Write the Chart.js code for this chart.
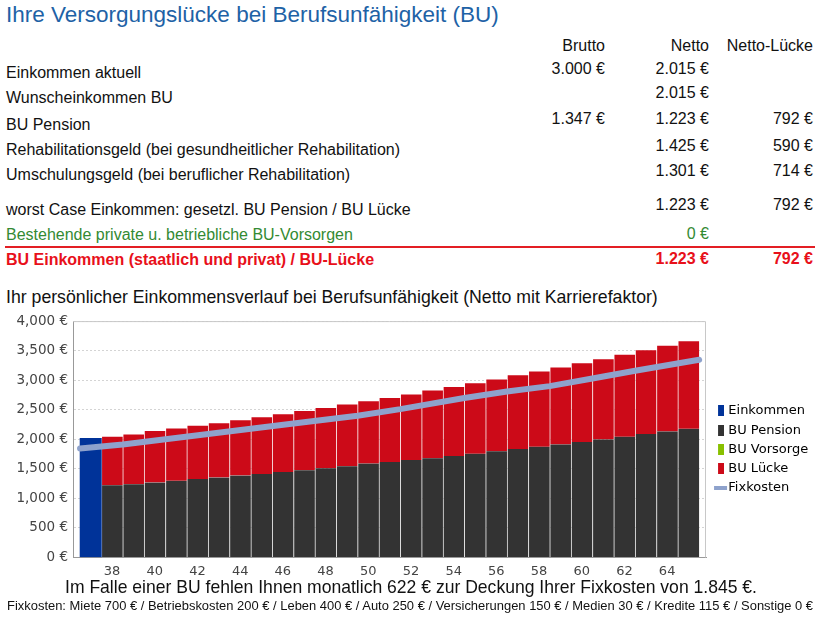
<!DOCTYPE html>
<html><head><meta charset="utf-8">
<script src="https://cdn.jsdelivr.net/npm/chart.js@4/dist/chart.umd.min.js"></script>
<style>
html,body{margin:0;padding:0;background:#fff;}
body{width:828px;height:626px;position:relative;overflow:hidden;font-family:"Liberation Sans",Arial,sans-serif;color:#111;}
.t{position:absolute;white-space:nowrap;line-height:1;}
#chartCanvas{position:absolute;left:0;top:308px;}
#redline{position:absolute;left:5px;width:810px;top:246px;height:2px;background:#e31e24;}
</style></head><body>
<canvas id="chartCanvas" width="828" height="271"></canvas>
<div id="redline"></div>
<script>
// ---------- data ----------
const tableLabels = ["Einkommen aktuell","Wunscheinkommen BU","BU Pension","Rehabilitationsgeld (bei gesundheitlicher Rehabilitation)","Umschulungsgeld (bei beruflicher Rehabilitation)","worst Case Einkommen: gesetzl. BU Pension / BU Lücke","Bestehende private u. betriebliche BU-Vorsorgen","BU Einkommen (staatlich und privat) / BU-Lücke"];
const tableBrutto = ["3.000 €","","1.347 €","","","","",""];
const tableNetto  = ["2.015 €","2.015 €","1.223 €","1.425 €","1.301 €","1.223 €","0 €","1.223 €"];
const tableLuecke = ["","","792 €","590 €","714 €","792 €","","792 €"];
const tableHeaders = ["Brutto","Netto","Netto-Lücke"];

const incomeAges = [37];
const incomeValues = [2015];
const buAges = [38,39,40,41,42,43,44,45,46,47,48,49,50,51,52,53,54,55,56,57,58,59,60,61,62,63,64,65];
const pensionValues = [1223,1241,1269,1297,1330,1353,1387,1414,1448,1476,1510,1544,1589,1616,1650,1678,1717,1757,1796,1835,1875,1914,1953,1998,2044,2088,2133,2178];
const vorsorgeValues = [0,0,0,0,0,0,0,0,0,0,0,0,0,0,0,0,0,0,0,0,0,0,0,0,0,0,0,0];
const lueckeValues = [831,853,881,898,909,932,948,972,988,1016,1032,1055,1066,1094,1118,1157,1179,1201,1229,1258,1285,1313,1347,1369,1397,1431,1460,1492];
const fixAges = [36.5,38.5,42.5,46.5,49.5,51.5,54.5,56.5,58.5,60.5,62.5,65.5];
const fixValues = [1845,1912,2088,2268,2400,2510,2700,2810,2900,3030,3160,3345];
const xTickStep = 2;
const yTicksMax = 4000, yTickStep = 500;

// ---------- text ----------
function place(text, x, baseline, size, o) {
  o = o || {};
  const d = document.createElement('div');
  d.className = 't';
  d.textContent = text;
  d.style.fontSize = size + 'px';
  d.style.top = (baseline - 0.8465 * size) + 'px';
  if (o.align === 'right') d.style.right = (828 - x) + 'px'; else d.style.left = x + 'px';
  if (o.color) d.style.color = o.color;
  if (o.bold) d.style.fontWeight = 'bold';
  if (o.family) d.style.fontFamily = o.family;
  document.body.appendChild(d);
  return d;
}
place("Ihre Versorgungslücke bei Berufsunfähigkeit (BU)", 6, 23, 22.5, {color:'#1e62a6'});
const colRight = [605, 709, 813];
tableHeaders.forEach((h,i)=>place(h, colRight[i], 52, 16, {align:'right'}));
const labelBase = [78.5,104,130.5,155.5,180.5,215.5,240.5,265.5];
const numBase = [75,99,125,151.5,177,211,240,264.5];
tableLabels.forEach((l,i)=>{
  const st = i===6 ? {color:'#338a33'} : i===7 ? {color:'#e8101a', bold:true} : {};
  place(l, 6, labelBase[i], 16, st);
  [tableBrutto, tableNetto, tableLuecke].forEach((col,c)=>{
    if (col[i]) place(col[i], colRight[c], numBase[i], 16, Object.assign({align:'right'}, st));
  });
});
place("Ihr persönlicher Einkommensverlauf bei Berufsunfähigkeit (Netto mit Karrierefaktor)", 6, 304, 17.7, {});
function fitX(el, left, width) {
  const w = el.getBoundingClientRect().width;
  el.style.left = left + 'px';
  el.style.transformOrigin = '0 0';
  el.style.transform = 'scaleX(' + (width / w) + ')';
}
const f1 = place("Im Falle einer BU fehlen Ihnen monatlich 622 € zur Deckung Ihrer Fixkosten von 1.845 €.", 0, 593.3, 18.5, {family:'"Liberation Sans Narrow","Liberation Sans",Arial'});
fitX(f1, 65, 692);
const f2 = place("Fixkosten: Miete 700 € / Betriebskosten 200 € / Leben 400 € / Auto 250 € / Versicherungen 150 € / Medien 30 € / Kredite 115 € / Sonstige 0 €", 0, 610.5, 13, {family:'"Liberation Sans Narrow","Liberation Sans",Arial'});
fitX(f2, 7, 806);

// ---------- chart ----------
Chart.defaults.font.family = 'DejaVu Sans';
Chart.defaults.font.size = 13;
Chart.defaults.color = '#333';

function rectIcon(color) {
  const c = document.createElement('canvas'); c.width = 14; c.height = 11;
  const g = c.getContext('2d'); g.fillStyle = color; g.fillRect(8, 0, 6, 11); return c;
}
function lineIcon(color) {
  const c = document.createElement('canvas'); c.width = 24; c.height = 4;
  const g = c.getContext('2d'); g.fillStyle = color; g.fillRect(9, 0, 13, 4); return c;
}
const colors = {income:'#003399', pension:'#333333', vorsorge:'#88c000', luecke:'#cc0a18', fix:'#8ea2cc'};
const icons = [rectIcon(colors.income), rectIcon(colors.pension), rectIcon(colors.vorsorge), rectIcon(colors.luecke), lineIcon(colors.fix)];

const pts = (xs, ys) => xs.map((x,i)=>({x, y: ys[i]}));
const framePlugin = {
  id: 'frame',
  beforeDatasetsDraw(chart) {
    const {ctx, chartArea: a} = chart;
    ctx.save(); ctx.strokeStyle = '#c8c8c8'; ctx.lineWidth = 1;
    ctx.beginPath(); ctx.moveTo(a.left, a.top + 0.5); ctx.lineTo(a.right - 0.5, a.top + 0.5); ctx.lineTo(a.right - 0.5, a.bottom); ctx.stroke();
    ctx.restore();
  }
};
const sep = 'rgba(255,255,255,0.3)';
const chart = new Chart(document.getElementById('chartCanvas'), {
  type: 'bar',
  data: {
    datasets: [
      {label:'Einkommen', data: pts(incomeAges, incomeValues), backgroundColor: colors.income, borderWidth: 0},
      {label:'BU Pension', data: pts(buAges, pensionValues), backgroundColor: colors.pension, borderColor: sep, borderWidth: {left:1, right:0, top:0, bottom:0}},
      {label:'BU Vorsorge', data: pts(buAges, vorsorgeValues), backgroundColor: c => (c.raw && c.raw.y > 0) ? colors.vorsorge : 'rgba(0,0,0,0)', borderWidth: 0},
      {label:'BU Lücke', data: pts(buAges, lueckeValues), backgroundColor: colors.luecke, borderColor: sep, borderWidth: {left:1, right:0, top:1, bottom:0}},
      {type:'line', label:'Fixkosten', data: pts(fixAges, fixValues), borderColor: colors.fix, borderWidth: 6, pointRadius: 0, tension: 0, borderCapStyle:'round', borderJoinStyle:'round', order: -1}
    ]
  },
  options: {
    responsive: false, animation: false, devicePixelRatio: 1,
    layout: {padding: {left: 10, top: 12, right: 0, bottom: 0}},
    datasets: {bar: {barPercentage: 1, categoryPercentage: 1}},
    scales: {
      x: {
        type: 'linear', stacked: true, offset: false, min: 36.17, max: 65.82,
        afterFit(scale) { scale.height = 21.5; },
        grid: {display: false, drawTicks: false},
        border: {display: true, color: '#999', width: 1},
        ticks: {stepSize: xTickStep, includeBounds: false, padding: 6, color: '#444', font: {size: 13}}
      },
      y: {
        stacked: true, min: 0, max: yTicksMax,
        afterFit(scale) { scale.width = 63; },
        grid: {color: '#d4d4d4', drawTicks: false},
        border: {display: true, color: '#999', width: 1, dash: [2, 2]},
        ticks: {stepSize: yTickStep, padding: 5, color: '#444', font: {size: 13.5},
          callback: v => v.toLocaleString('en-US') + ' €'}
      }
    },
    plugins: {
      tooltip: {enabled: false},
      legend: {
        position: 'right',
        labels: {
          usePointStyle: true, boxWidth: 9.5, padding: 6.3, color: '#222', font: {size: 13},
          generateLabels(ch) {
            return ch.data.datasets.map((ds, i) => ({text: ds.label, pointStyle: icons[i], fillStyle: 'transparent', strokeStyle: 'transparent', lineWidth: 0, hidden: false, datasetIndex: i}));
          }
        }
      }
    }
  },
  plugins: [framePlugin]
});
const dx = chart.legend.left - 706;
chart.options.layout.padding.right = Math.max(0, dx);
chart.update();
</script>
</body></html>
